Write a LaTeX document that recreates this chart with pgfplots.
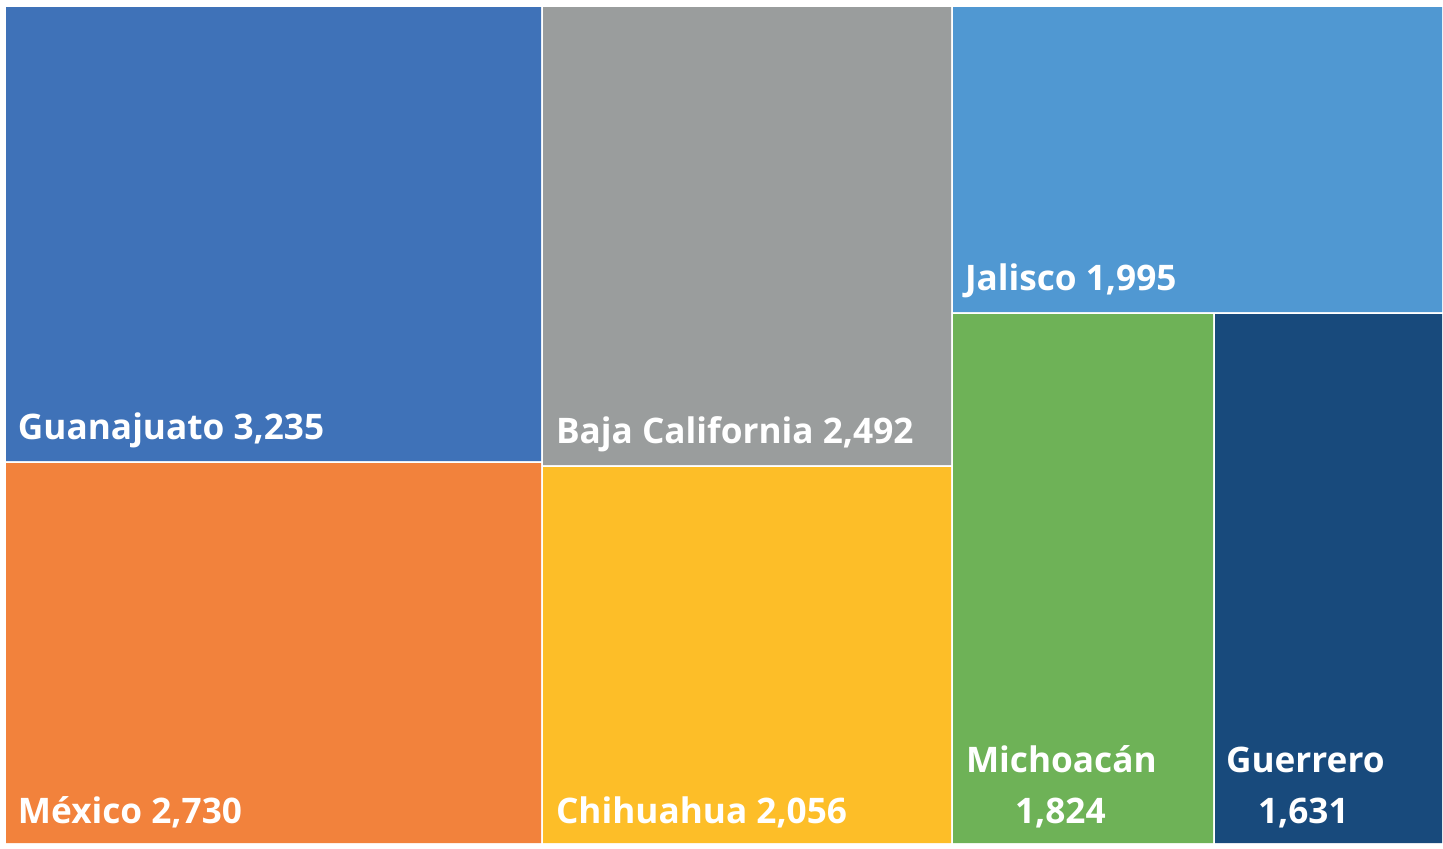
\documentclass[border=0pt]{standalone}
\usepackage{fontspec}
\setmainfont{Open Sans}
\usepackage{pgfplots}
\pgfplotsset{compat=1.18}
\definecolor{cGua}{HTML}{3F72B8}
\definecolor{cMex}{HTML}{F2823C}
\definecolor{cBaja}{HTML}{9A9D9D}
\definecolor{cChi}{HTML}{FDBE28}
\definecolor{cJal}{HTML}{5098D2}
\definecolor{cMic}{HTML}{6EB257}
\definecolor{cGue}{HTML}{184A7C}
\begin{document}
\begin{tikzpicture}
\begin{axis}[
  scale only axis, width=721.5pt, height=424pt,
  xmin=0, xmax=1443, ymin=0, ymax=848, y dir=reverse,
  hide axis, clip=false,
]
% white background covering the whole picture
\addplot[draw=none, fill=white] coordinates {(0,0) (1443,0) (1443,848) (0,848) (0,0)};
% rectangles (pixel bounds, y downward)
\addplot[draw=none, fill=cGua] coordinates {(6,7) (541,7) (541,461) (6,461) (6,7)};
\addplot[draw=none, fill=cMex] coordinates {(6,463) (541,463) (541,843) (6,843) (6,463)};
\addplot[draw=none, fill=cBaja] coordinates {(543,7) (951,7) (951,465) (543,465) (543,7)};
\addplot[draw=none, fill=cChi] coordinates {(543,467) (951,467) (951,843) (543,843) (543,467)};
\addplot[draw=none, fill=cJal] coordinates {(953,7) (1442,7) (1442,312) (953,312) (953,7)};
\addplot[draw=none, fill=cMic] coordinates {(953,314) (1213,314) (1213,843) (953,843) (953,314)};
\addplot[draw=none, fill=cGue] coordinates {(1215,314) (1442,314) (1442,843) (1215,843) (1215,314)};
% labels
\addplot[only marks, mark=none, point meta=explicit symbolic,
  nodes near coords,
  every node near coord/.append style={anchor=base west, inner sep=0pt, outer sep=0pt, text=white, font=\fontsize{17.6}{20}\selectfont\bfseries}]
  coordinates {
    (18,439) [Guanajuato 3,235]
    (18,823) [México 2,730]
    (556,443) [Baja California 2,492]
    (556,823) [Chihuahua 2,056]
    (965,290) [Jalisco 1,995]
    (966,772) [Michoacán]
    (1015,823) [1,824]
    (1226,772) [Guerrero]
    (1258,823) [1,631]
  };
\end{axis}
\end{tikzpicture}
\end{document}
